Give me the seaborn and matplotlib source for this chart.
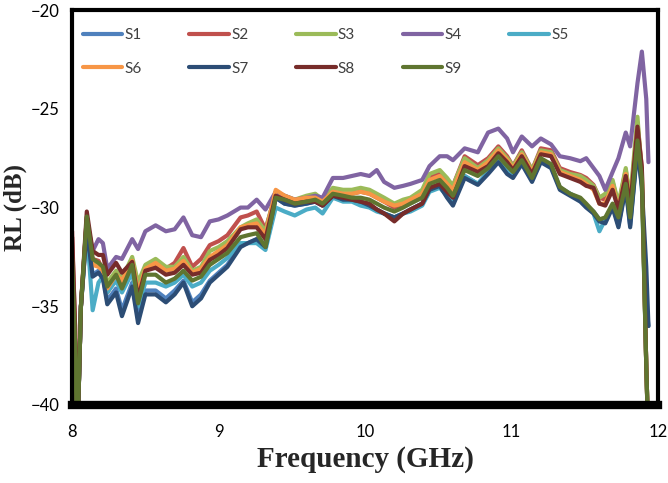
import numpy as np
import pandas as pd
import matplotlib
matplotlib.use("Agg")
import matplotlib.pyplot as plt
import seaborn as sns

# frequency points (GHz)
freq = [8.00, 8.02, 8.035, 8.06, 8.10, 8.14, 8.18, 8.21, 8.24, 8.30,
        8.34, 8.41, 8.45, 8.50, 8.57, 8.64, 8.70, 8.76, 8.82, 8.88,
        8.94, 9.00, 9.06, 9.15, 9.20, 9.26, 9.32, 9.39, 9.45, 9.52,
        9.60, 9.66, 9.71, 9.78, 9.85, 9.91, 9.97, 10.03, 10.08, 10.13,
        10.20, 10.26, 10.31, 10.39, 10.44, 10.51, 10.56, 10.60, 10.68, 10.77,
        10.84, 10.91, 10.97, 11.01, 11.07, 11.14, 11.20, 11.27, 11.33, 11.40,
        11.47, 11.51, 11.56, 11.60, 11.64, 11.69, 11.73, 11.78, 11.81, 11.86,
        11.89, 11.92, 11.935]

s1 = [-34, -38, -42, -35, -31.0, -33.4, -33.2, -33.5, -34.7, -34.1,
      -35.2, -33.8, -35.6, -34.2, -34.2, -34.6, -34.2, -33.7, -34.8, -34.4,
      -33.7, -33.3, -32.9, -31.9, -31.8, -31.6, -32.0, -29.5, -29.8, -29.9,
      -29.8, -29.7, -29.9, -29.4, -29.6, -29.6, -29.7, -29.9, -30.1, -30.3,
      -30.5, -30.3, -30.1, -29.8, -29.1, -28.9, -29.4, -29.8, -28.4, -28.8,
      -28.2, -27.6, -28.2, -28.4, -27.7, -28.6, -27.6, -27.9, -29.0, -29.3,
      -29.6, -29.9, -30.2, -30.6, -30.7, -29.9, -30.9, -28.9, -30.9, -26.9,
      -28.9, -35, -36]
s2 = [-31.2, -36, -42, -35, -30.5, -32.6, -32.7, -33.2, -34.3, -33.6,
      -33.9, -32.9, -34.2, -33.2, -32.9, -33.1, -32.8, -32.05, -33.0, -32.6,
      -31.9, -31.7, -31.4, -30.5, -30.4, -30.2, -31.1, -29.3, -29.5, -29.7,
      -29.6, -29.5, -29.7, -29.2, -29.3, -29.3, -29.2, -29.3, -29.5, -29.7,
      -30.0, -29.8, -29.7, -29.3, -28.5, -28.2, -28.6, -28.9, -27.4, -27.85,
      -27.5, -26.9, -27.4, -27.9, -27.1, -28.1, -27.0, -27.1, -28.0, -28.2,
      -28.35, -28.5, -28.85, -29.5, -29.6, -28.7, -29.9, -28.1, -29.8, -25.7,
      -28.0, -38, -42]
s3 = [-32.8, -37, -42, -35, -30.6, -32.8, -32.9, -33.0, -33.8, -33.2,
      -33.6, -32.5, -33.8, -32.9, -32.6, -33.0, -33.0, -32.5, -33.2, -33.0,
      -32.2, -32.0, -31.7, -31.0, -30.8, -30.6, -31.2, -29.2, -29.4, -29.6,
      -29.4, -29.3, -29.6, -29.0, -29.1, -29.1, -29.0, -29.1, -29.3, -29.5,
      -29.8, -29.6, -29.5, -29.1, -28.3, -28.1, -28.5, -28.9, -27.5, -28.0,
      -27.6, -27.0, -27.5, -27.9, -27.2, -28.1, -27.1, -27.2, -28.1, -28.3,
      -28.4, -28.6, -28.9, -29.5, -29.3, -28.6, -29.8, -28.0, -29.6, -25.4,
      -28.5, -38, -42]
s4 = [-34, -37.5, -42, -35, -30.6, -32.2, -31.6, -31.8, -33.1, -32.5,
      -32.6, -31.6, -32.1, -31.2, -30.9, -31.2, -31.1, -30.5, -31.4, -31.5,
      -30.7, -30.6, -30.4, -30.0, -30.0, -29.6, -30.1, -29.2, -29.4, -29.6,
      -29.5, -29.4, -29.5, -28.5, -28.5, -28.4, -28.3, -28.4, -28.1, -28.7,
      -29.0, -28.9, -28.8, -28.6, -27.9, -27.4, -27.4, -27.6, -27.0, -27.2,
      -26.2, -26.0, -26.5, -27.2, -26.4, -26.9, -26.5, -26.8, -27.4, -27.5,
      -27.65, -27.5, -28.0, -28.4, -29.1, -28.2, -27.5, -26.2, -26.9, -23.7,
      -22.1, -24.5, -27.7]
s5 = [-34, -38, -42, -35, -31.0, -35.2, -33.8, -33.5, -34.3, -33.7,
      -34.3, -33.3, -35.0, -33.8, -33.8, -34.0, -33.8, -33.4, -34.0, -33.8,
      -33.2, -32.9, -32.55, -31.8, -31.8, -31.8, -32.15, -30.0, -30.2, -30.4,
      -30.1, -30.0, -30.3, -29.5, -29.7, -29.7, -29.9, -30.0, -30.2, -30.3,
      -30.5, -30.3, -30.2, -29.9, -29.2, -29.0, -29.4, -29.8, -28.4, -28.8,
      -28.2, -27.6, -28.2, -28.4, -27.7, -28.6, -27.6, -27.9, -29.0, -29.3,
      -29.6, -29.9, -30.3, -31.2, -30.6, -29.9, -30.8, -28.9, -30.7, -26.9,
      -28.8, -38, -42]
s6 = [-32.5, -37, -42, -35, -30.7, -32.9, -33.0, -33.2, -34.1, -33.4,
      -33.7, -32.7, -34.3, -33.1, -32.8, -33.2, -33.1, -32.7, -33.3, -33.1,
      -32.5, -32.2, -31.9, -31.0, -30.9, -30.8, -31.4, -29.1, -29.4, -29.6,
      -29.5, -29.5, -29.7, -29.2, -29.3, -29.3, -29.2, -29.3, -29.5, -29.7,
      -29.9, -29.8, -29.6, -29.3, -28.6, -28.4, -28.8, -29.1, -27.7, -28.1,
      -27.7, -27.1, -27.6, -28.0, -27.3, -28.2, -27.2, -27.3, -28.2, -28.4,
      -28.6, -28.8, -29.1, -29.8, -29.8, -28.9, -30.1, -28.3, -29.9, -26.0,
      -28.3, -38, -42]
s7 = [-34, -38, -42, -35, -31.1, -33.5, -33.3, -33.6, -34.9, -34.3,
      -35.5, -34.0, -35.85, -34.4, -34.4, -34.8, -34.4, -33.8, -35.0, -34.6,
      -33.8, -33.4, -33.0, -32.0, -31.8, -31.6, -32.0, -29.5, -29.8, -29.9,
      -29.8, -29.7, -29.9, -29.4, -29.6, -29.6, -29.7, -29.9, -30.1, -30.3,
      -30.5, -30.3, -30.1, -29.8, -29.1, -28.9, -29.5, -29.9, -28.5, -28.85,
      -28.3, -27.7, -28.3, -28.5, -27.8, -28.7, -27.7, -28.0, -29.1, -29.4,
      -29.7, -30.0, -30.3, -30.7, -30.8, -30.0, -31.0, -29.0, -31.0, -27.0,
      -29.0, -33, -36]
s8 = [-31.5, -36, -42, -35, -30.2, -32.2, -32.4, -32.4, -33.4, -32.8,
      -33.3, -32.75, -34.6, -33.2, -33.05, -33.4, -33.3, -32.9, -33.4, -33.3,
      -32.65, -32.4, -32.05, -31.1, -31.0, -31.0, -31.6, -29.4, -29.6, -29.8,
      -29.7, -29.7, -29.9, -29.4, -29.5, -29.6, -29.7, -29.8, -30.1, -30.3,
      -30.7, -30.3, -30.1, -29.8, -29.0, -28.8, -29.2, -29.5, -27.9, -28.2,
      -27.9, -27.25, -27.7, -28.1, -27.4, -28.3, -27.3, -27.4, -28.3, -28.5,
      -28.7, -28.9, -29.0, -29.8, -29.9, -29.1, -30.1, -28.4, -30.0, -25.9,
      -28.0, -38, -42]
s9 = [-32.6, -37, -42, -35, -30.45, -32.6, -32.8, -33.0, -34.0, -33.4,
      -34.1, -32.9, -34.85, -33.4, -33.4, -33.8, -33.6, -33.2, -33.7, -33.5,
      -32.9, -32.6, -32.3, -31.5, -31.4, -31.3, -32.0, -29.5, -29.6, -29.8,
      -29.7, -29.6, -29.8, -29.3, -29.4, -29.5, -29.5, -29.6, -29.8, -30.0,
      -30.2, -30.0, -29.8, -29.5, -28.8, -28.6, -29.0, -29.4, -28.1, -28.4,
      -28.0, -27.4, -27.9, -28.2, -27.6, -28.5, -27.5, -27.8, -28.95, -29.3,
      -29.5, -29.8, -30.2, -30.6, -30.5, -29.8, -30.5, -28.8, -30.5, -26.6,
      -28.5, -38, -42]

names = ["S1", "S2", "S3", "S4", "S5", "S6", "S7", "S8", "S9"]
colors = ["#4F81BD", "#C0504D", "#9BBB59", "#8064A2", "#4BACC6",
          "#F79646", "#2C4D75", "#772C2A", "#5F7530"]

df = pd.concat(
    [pd.DataFrame({"freq": freq, "rl": vals, "series": n})
     for n, vals in zip(names, [s1, s2, s3, s4, s5, s6, s7, s8, s9])],
    ignore_index=True)

sns.set_style("white")
plt.rcParams["font.family"] = ["Lato", "DejaVu Sans"]

fig = plt.figure(figsize=(6.68, 4.83), dpi=100)
ax = fig.add_axes([0.108, 0.1615, 0.877, 0.8175])

sns.lineplot(data=df, x="freq", y="rl", hue="series", hue_order=names,
             palette=colors, linewidth=3, estimator=None, sort=False, ax=ax)
for line in ax.get_lines():
    line.set_solid_joinstyle("round")
    line.set_solid_capstyle("round")

ax.set_xlim(8, 12)
ax.set_ylim(-40, -20)
ax.set_xticks([8, 9, 10, 11, 12])
ax.set_yticks([-40, -35, -30, -25, -20])
ax.tick_params(length=0, labelsize=12, colors="black")
ax.tick_params(axis="x", pad=14)
ax.tick_params(axis="y", pad=9)

for side in ["left", "top", "right"]:
    ax.spines[side].set_color("black")
    ax.spines[side].set_linewidth(3)
ax.spines["bottom"].set_color("black")
ax.spines["bottom"].set_linewidth(6)

ax.set_xlabel("Frequency (GHz)", family="Liberation Serif", fontweight="bold",
              fontsize=21, labelpad=4)
ax.set_ylabel("RL (dB)", family="Liberation Serif", fontweight="bold",
              fontsize=18, labelpad=3)

# legend: 5 columns filled row by row
handles, labels = ax.get_legend_handles_labels()
order = [0, 5, 1, 6, 2, 7, 3, 8, 4]
ax.legend([handles[i] for i in order], [labels[i] for i in order],
          ncol=5, frameon=False, loc="upper left",
          bbox_to_anchor=(0.018, 0.955), borderaxespad=0, borderpad=0,
          fontsize=11, handlelength=2.6, handletextpad=0.15,
          columnspacing=3.1, labelspacing=1.3, labelcolor="#404040")
for line in ax.get_legend().get_lines():
    line.set_linewidth(3)

fig.savefig("out.png", dpi=100)
